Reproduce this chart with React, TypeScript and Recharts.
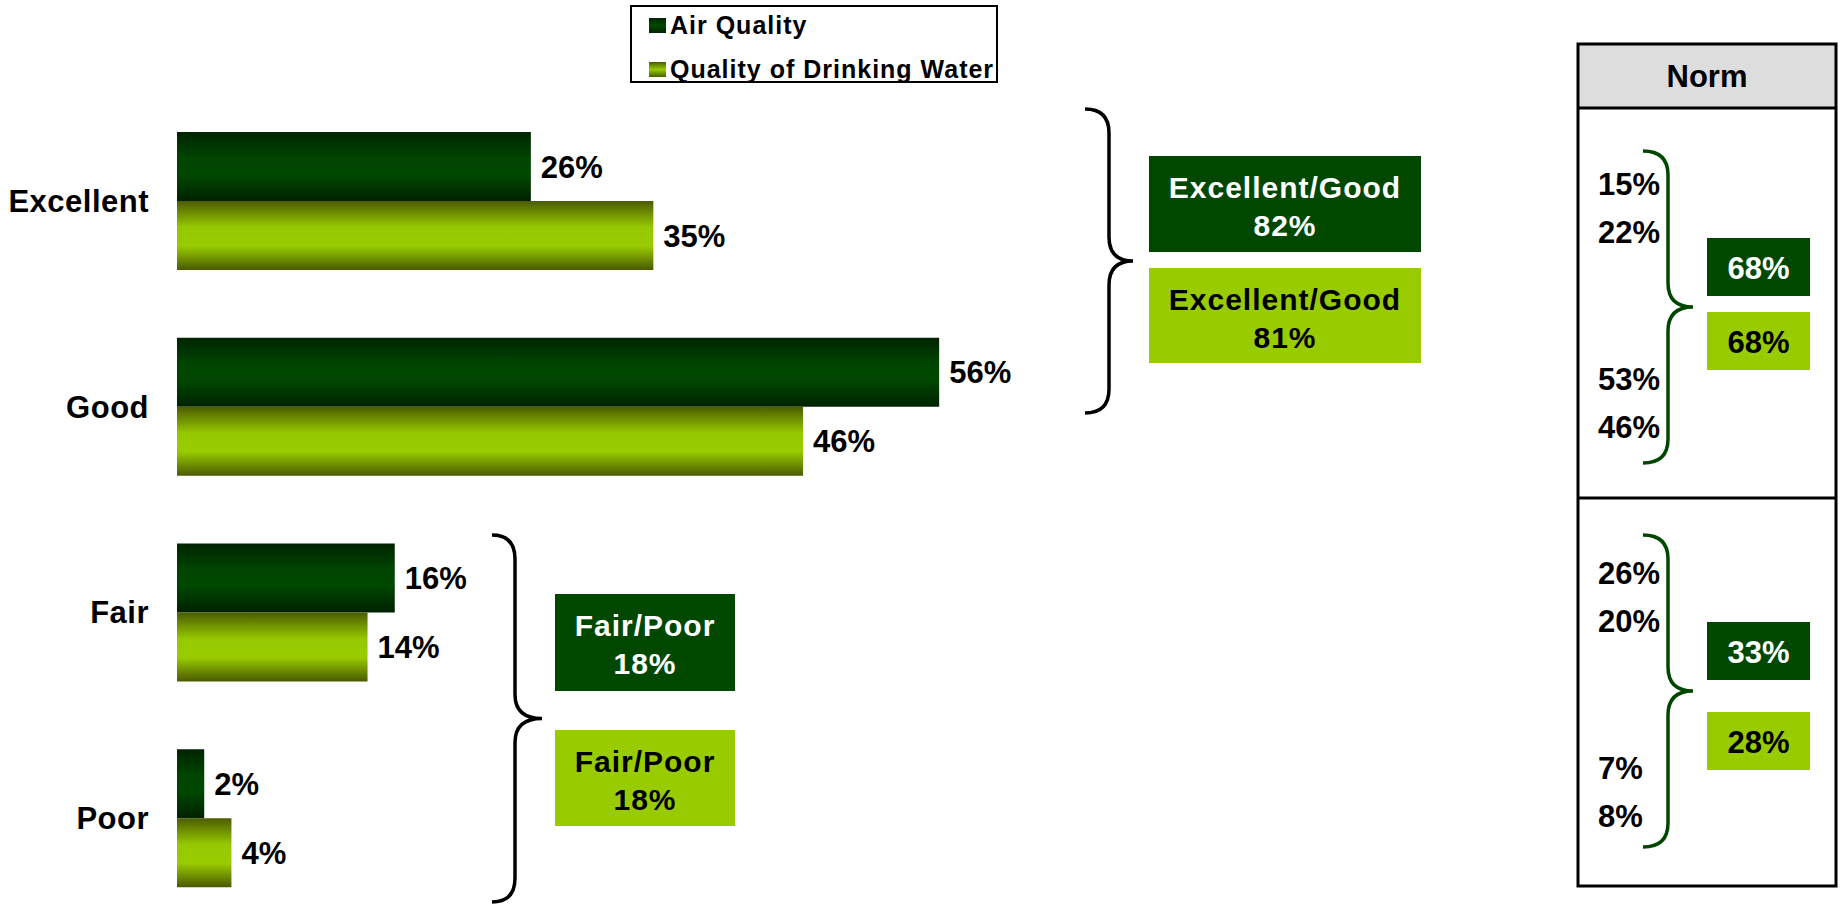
import { BarChart, Bar, XAxis, YAxis, Legend, LabelList } from 'recharts';

const categories = ['Excellent', 'Good', 'Fair', 'Poor'];
const airQuality = [26, 56, 16, 2];
const drinkingWater = [35, 46, 14, 4];
const seriesNames = ['Air Quality', 'Quality of Drinking Water'];

// net boxes next to the braces
const netTitles = ['Excellent/Good', 'Fair/Poor'];
const netAir = [82, 18];
const netWater = [81, 18];

// norm panel (air / water per category, then nets)
const normAir = [15, 53, 26, 7];
const normWater = [22, 46, 20, 8];
const normNetAir = [68, 33];
const normNetWater = [68, 28];

const data = categories.map((c, i) => ({ name: c, air: airQuality[i], water: drinkingWater[i] }));

const FONT = '"Liberation Sans", Arial, Helvetica, sans-serif';
const DARK = '#004800';
const LIGHT = '#99cc00';

const markerFills = [
  'linear-gradient(#002400, #004800 50%, #002400)',
  'linear-gradient(#4b5c00, #99cc00 50%, #4b5c00)',
];

const pct = (v: unknown) => `${v}%`;

function brace(x0: number, xv: number, xt: number, y0: number, y1: number, r: number) {
  const ym = (y0 + y1) / 2;
  return `M${x0},${y0} Q${xv},${y0} ${xv},${y0 + r} L${xv},${ym - r} Q${xv},${ym} ${xt},${ym} Q${xv},${ym} ${xv},${ym + r} L${xv},${y1 - r} Q${xv},${y1} ${x0},${y1}`;
}

function renderLegend() {
  return (
    <div
      style={{
        width: 368,
        height: 78,
        border: '2px solid #000',
        boxSizing: 'border-box',
        background: '#fff',
        position: 'relative',
        fontFamily: FONT,
      }}
    >
      {seriesNames.map((n, i) => (
        <div
          key={n}
          style={{ position: 'absolute', left: 17, top: 4 + i * 44, height: 28, display: 'flex', alignItems: 'center' }}
        >
          <span style={{ display: 'inline-block', width: 17, height: 15, background: markerFills[i], marginRight: 4 }} />
          <span style={{ fontSize: 25, fontWeight: 700, letterSpacing: 1, color: '#000', whiteSpace: 'nowrap' }}>{n}</span>
        </div>
      ))}
    </div>
  );
}

function TxtLine({ x, y, s, fill = '#000', anchor = 'middle', size = 31, ls = 0 }: { x: number; y: number; s: string; fill?: string; anchor?: string; size?: number; ls?: number }) {
  // y is the visual centre of the capitals
  return (
    <text x={x} y={y + size * 0.358} textAnchor={anchor as any} fontSize={size} fontWeight={700} fontFamily={FONT} fill={fill} letterSpacing={ls}>
      {s}
    </text>
  );
}

function NetBox({ x, y, w, h, title, value, dark }: { x: number; y: number; w: number; h: number; title: string; value: number; dark: boolean }) {
  const col = dark ? '#fff' : '#000';
  return (
    <g>
      <rect x={x} y={y} width={w} height={h} fill={dark ? DARK : LIGHT} />
      <TxtLine x={x + w / 2} y={y + 31} s={title} fill={col} size={30} ls={1} />
      <TxtLine x={x + w / 2} y={y + 69} s={pct(value)} fill={col} size={30} ls={1} />
    </g>
  );
}

function NormBox({ y, value, dark }: { y: number; value: number; dark: boolean }) {
  return (
    <g>
      <rect x={1707} y={y} width={103} height={58} fill={dark ? DARK : LIGHT} />
      <TxtLine x={1758.5} y={y + 30} s={pct(value)} fill={dark ? '#fff' : '#000'} />
    </g>
  );
}

function Annotations() {
  const normRowsTop = [184, 379];
  const normRowsBottom = [573, 768];
  return (
    <svg width={1841} height={904} style={{ position: 'absolute', left: 0, top: 0, pointerEvents: 'none' }}>
      {/* braces of the main chart */}
      <path d={brace(1085, 1109, 1133, 109, 413, 24)} fill="none" stroke="#000" strokeWidth={3.5} />
      <path d={brace(492, 515, 542, 535, 902, 24)} fill="none" stroke="#000" strokeWidth={3.5} />

      <NetBox x={1149} y={156} w={272} h={96} title={netTitles[0]} value={netAir[0]} dark />
      <NetBox x={1149} y={268} w={272} h={95} title={netTitles[0]} value={netWater[0]} dark={false} />
      <NetBox x={555} y={594} w={180} h={97} title={netTitles[1]} value={netAir[1]} dark />
      <NetBox x={555} y={730} w={180} h={96} title={netTitles[1]} value={netWater[1]} dark={false} />

      {/* norm panel */}
      <rect x={1578} y={44} width={258} height={64} fill="#dddddd" />
      <rect x={1578} y={44} width={258} height={842} fill="none" stroke="#000" strokeWidth={3} />
      <line x1={1578} y1={108} x2={1836} y2={108} stroke="#000" strokeWidth={3} />
      <line x1={1578} y1={498} x2={1836} y2={498} stroke="#000" strokeWidth={3} />
      <TxtLine x={1707} y={76} s="Norm" />

      {normRowsTop.map((y, i) => (
        <g key={`t${i}`}>
          <TxtLine x={1598} y={y} s={pct(normAir[i])} anchor="start" />
          <TxtLine x={1598} y={y + 48} s={pct(normWater[i])} anchor="start" />
        </g>
      ))}
      {normRowsBottom.map((y, i) => (
        <g key={`b${i}`}>
          <TxtLine x={1598} y={y} s={pct(normAir[i + 2])} anchor="start" />
          <TxtLine x={1598} y={y + 48} s={pct(normWater[i + 2])} anchor="start" />
        </g>
      ))}
      <path d={brace(1643, 1668, 1693, 151, 463, 24)} fill="none" stroke={DARK} strokeWidth={3.5} />
      <path d={brace(1643, 1668, 1693, 535, 847, 24)} fill="none" stroke={DARK} strokeWidth={3.5} />
      <NormBox y={238} value={normNetAir[0]} dark />
      <NormBox y={312} value={normNetWater[0]} dark={false} />
      <NormBox y={622} value={normNetAir[1]} dark />
      <NormBox y={712} value={normNetWater[1]} dark={false} />
    </svg>
  );
}

export default function App() {
  const labelProps = { fill: '#000', fontSize: 31, fontWeight: 700, fontFamily: FONT };
  return (
    <div
      style={{
        position: 'absolute',
        left: 0,
        top: 0,
        width: 1841,
        height: 904,
        overflow: 'hidden',
        background: '#fff',
        fontFamily: FONT,
      }}
    >
      <BarChart
        width={1841}
        height={926}
        data={data}
        layout="vertical"
        margin={{ top: 98, right: 303, bottom: 5, left: 0 }}
        barGap={0}
      >
        <defs>
          <linearGradient id="gAir" x1="0" y1="0" x2="0" y2="1">
            <stop offset="0" stopColor="#002400" />
            <stop offset="0.38" stopColor="#004500" />
            <stop offset="0.6" stopColor="#004800" />
            <stop offset="1" stopColor="#002200" />
          </linearGradient>
          <linearGradient id="gWater" x1="0" y1="0" x2="0" y2="1">
            <stop offset="0" stopColor="#4b5c00" />
            <stop offset="0.38" stopColor="#96c800" />
            <stop offset="0.65" stopColor="#99cc00" />
            <stop offset="1" stopColor="#4a5a00" />
          </linearGradient>
        </defs>
        <XAxis type="number" domain={[0, 100]} hide />
        <YAxis
          type="category"
          dataKey="name"
          width={177}
          axisLine={false}
          tickLine={false}
          tickSize={0}
          tickMargin={28}
          tick={{ fill: '#000', fontSize: 31, fontWeight: 700, fontFamily: FONT, letterSpacing: 0.5 }}
        />
        <Legend
          layout="horizontal"
          align="center"
          verticalAlign="middle"
          content={renderLegend}
          wrapperStyle={{ left: 630, top: 5, width: 368, height: 78 }}
        />
        <Bar dataKey="air" name={seriesNames[0]} fill="url(#gAir)" barSize={69} isAnimationActive={false}>
          <LabelList dataKey="air" position="right" offset={10} formatter={pct} {...labelProps} />
        </Bar>
        <Bar dataKey="water" name={seriesNames[1]} fill="url(#gWater)" barSize={69} isAnimationActive={false}>
          <LabelList dataKey="water" position="right" offset={10} formatter={pct} {...labelProps} />
        </Bar>
      </BarChart>
      <Annotations />
    </div>
  );
}
